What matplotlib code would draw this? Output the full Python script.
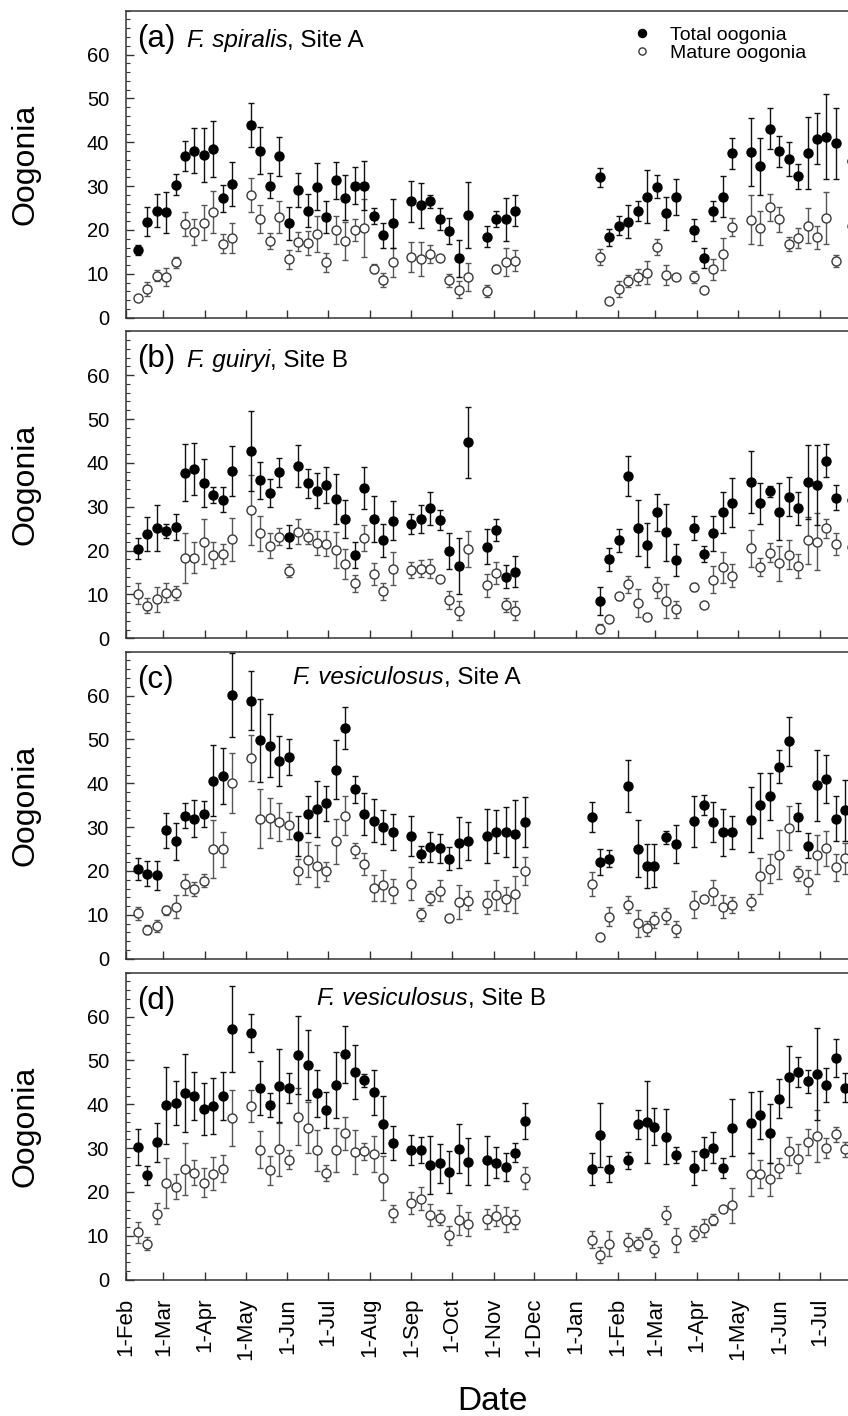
import pandas as pd
import matplotlib.pyplot as plt
from matplotlib.lines import Line2D
from matplotlib.ticker import MultipleLocator

plt.rcParams['font.family'] = ['Liberation Sans', 'DejaVu Sans']

# sampling dates, days after 1-Feb of the first year
days_ab = [9, 16, 23, 30, 37, 44, 51, 58, 65, 72, 79,
           93, 100, 107, 114, 121, 128, 135, 142, 149, 156, 163, 170, 177, 184, 191, 198,
           212, 219, 226, 233, 240, 247, 254,
           268, 275, 282, 289,
           352, 359, 366, 373, 380, 387, 394, 401, 408,
           422, 429, 436, 443, 450,
           464, 471, 478, 485, 492, 499, 506, 513, 520, 527, 539]
days_cd = [9, 16, 23, 30, 37, 44, 51, 58, 65, 72, 79,
           93, 100, 107, 114, 121, 128, 135, 142, 149, 156, 163, 170, 177, 184, 191, 198,
           212, 219, 226, 233, 240, 247, 254,
           268, 275, 282, 289, 296,
           346, 352, 359, 373, 380, 387, 392, 401, 408,
           422, 429, 436, 443, 450,
           464, 471, 478, 485, 492, 499, 506, 513, 520, 527, 534]

# (a) F. spiralis, Site A
a_total = [15.4, 21.9, 24.4, 24.0, 30.3, 36.9, 38.1, 37.1, 38.5, 27.2, 30.5,
           44.0, 38.1, 30.1, 36.8, 21.5, 29.1, 24.4, 29.9, 23.0, 31.3, 27.4, 30.1, 30.1, 23.2, 18.8, 21.5,
           26.5, 25.6, 26.5, 22.5, 19.8, 13.5, 23.4,
           18.5, 22.5, 22.5, 24.4,
           32.0, 18.3, 21.0, 21.9, 24.3, 27.6, 29.9, 23.8, 27.6, 20.0, 13.7, 24.3, 27.6, 37.5,
           37.8, 34.5, 43.1, 37.9, 36.2, 32.2, 37.5, 40.8, 41.3, 39.8, 35.8]
a_total_se = [1.2, 3.3, 3.7, 4.7, 2.4, 3.4, 5.1, 6.2, 6.4, 3.1, 5.1,
              5.0, 5.4, 2.9, 4.4, 3.7, 3.8, 3.7, 5.4, 3.7, 4.2, 5.2, 4.2, 5.6, 1.9, 2.9, 5.6,
              4.6, 5.2, 1.5, 2.5, 2.9, 4.3, 7.5,
              2.4, 1.8, 4.9, 3.6,
              2.1, 2.0, 2.2, 3.7, 2.2, 6.1, 2.7, 3.7, 4.1, 2.4, 2.3, 2.3, 4.6, 3.5,
              7.8, 6.5, 4.7, 3.5, 3.9, 2.8, 8.2, 5.8, 9.6, 8.1, 3.0]
a_mature = [4.5, 6.6, 9.6, 9.3, 12.6, 21.4, 19.5, 21.7, 24.1, 16.9, 18.2,
            28.0, 22.4, 17.5, 23.0, 13.3, 17.3, 17.1, 19.1, 12.6, 20.1, 17.5, 20.0, 20.4, 11.2, 8.5, 12.6,
            13.9, 13.3, 14.5, 13.5, 8.5, 6.4, 9.3,
            6.1, 11.1, 12.7, 13.0,
            13.9, 3.7, 6.5, 8.3, 9.3, 10.3, 16.2, 9.7, 9.2, 9.3, 6.4, 11.0, 14.5, 20.7,
            22.3, 20.5, 25.2, 22.4, 16.8, 18.2, 21.0, 18.3, 22.7, 12.9, 21.0]
a_mature_se = [0.5, 1.6, 1.3, 2.0, 1.2, 2.8, 3.0, 3.9, 4.8, 2.2, 3.5,
               3.8, 3.2, 1.9, 3.6, 2.1, 2.2, 2.7, 4.2, 2.1, 3.2, 4.4, 2.5, 6.6, 1.0, 1.6, 3.4,
               3.4, 3.9, 2.1, 0.5, 1.5, 2.0, 3.1,
               1.4, 1.0, 3.1, 2.4,
               1.8, 0.3, 1.8, 1.4, 1.8, 2.7, 1.8, 2.3, 0.4, 1.4, 0.5, 2.3, 3.7, 2.1,
               5.6, 3.9, 3.1, 2.9, 1.6, 2.2, 3.9, 2.7, 6.0, 1.3, 2.0]

# (b) F. guiryi, Site B
b_total = [20.4, 23.8, 25.2, 24.5, 25.3, 37.8, 38.6, 35.4, 32.7, 31.6, 38.2,
           42.8, 36.0, 33.1, 37.9, 23.2, 39.2, 35.4, 33.7, 35.0, 31.8, 27.2, 19.0, 34.2, 27.2, 22.3, 26.8,
           26.1, 27.1, 29.6, 27.0, 20.0, 16.5, 44.7,
           20.9, 24.7, 14.0, 15.2,
           8.5, 18.0, 22.3, 37.0, 25.1, 21.3, 28.7, 24.2, 17.8, 25.1, 19.2, 23.9, 28.7, 30.9,
           35.6, 30.8, 33.5, 28.9, 32.3, 29.6, 35.6, 35.0, 40.5, 32.1, 31.6]
b_total_se = [2.4, 3.8, 5.2, 1.6, 3.0, 6.5, 6.0, 5.5, 1.8, 2.9, 5.7,
              9.1, 4.2, 3.2, 3.3, 2.6, 4.8, 3.3, 3.9, 4.1, 5.7, 4.3, 2.9, 4.8, 5.2, 3.8, 4.4,
              2.3, 3.2, 3.8, 2.3, 4.1, 6.4, 8.1,
              4.0, 2.5, 2.6, 3.5,
              3.3, 2.6, 2.6, 4.6, 6.4, 5.1, 4.3, 6.5, 3.6, 2.7, 1.9, 4.0, 4.6, 5.6,
              7.0, 4.7, 1.3, 6.6, 4.5, 3.7, 8.5, 9.1, 3.7, 2.9, 3.0]
b_mature = [10.2, 7.4, 8.9, 10.4, 10.4, 18.4, 18.4, 22.0, 19.0, 19.2, 22.6,
            29.3, 23.9, 21.1, 23.2, 15.4, 24.3, 23.2, 21.8, 21.6, 20.1, 16.9, 12.5, 22.8, 14.6, 10.7, 15.9,
            15.5, 15.9, 15.9, 13.6, 8.7, 6.3, 20.4,
            12.1, 14.9, 7.5, 6.3,
            2.2, 4.3, 9.6, 12.3, 8.1, 4.9, 11.6, 8.5, 6.6, 11.7, 7.5, 13.4, 16.2, 14.3,
            20.5, 16.3, 19.5, 17.1, 19.1, 16.5, 22.3, 22.0, 25.1, 21.5, 20.9]
b_mature_se = [2.3, 1.7, 2.9, 2.1, 1.6, 5.7, 3.6, 5.1, 2.9, 2.2, 4.9,
               8.0, 4.1, 2.9, 2.0, 1.5, 2.9, 1.7, 2.7, 2.9, 4.1, 3.4, 2.0, 3.0, 2.5, 2.0, 3.7,
               1.8, 2.0, 2.1, 0.5, 2.1, 2.1, 4.1,
               2.6, 2.5, 1.6, 2.2,
               1.0, 0.5, 0.8, 1.9, 3.2, 0.5, 2.3, 3.8, 1.9, 0.9, 0.5, 3.0, 3.5, 2.6,
               4.2, 2.1, 2.2, 4.0, 3.4, 2.7, 5.3, 6.5, 2.2, 2.5, 2.0]

# (c) F. vesiculosus, Site A
c_total = [20.4, 19.4, 19.0, 29.3, 26.8, 32.6, 31.9, 33.0, 40.6, 41.6, 60.1,
           58.8, 49.8, 48.6, 45.0, 46.0, 28.0, 32.9, 34.1, 35.4, 43.1, 52.7, 38.6, 33.0, 31.5, 30.0, 28.8,
           28.0, 23.9, 25.5, 25.2, 22.8, 26.4, 26.8,
           28.0, 28.9, 29.0, 28.5, 31.2,
           32.3, 22.0, 22.8, 39.3, 25.1, 21.2, 21.2, 27.7, 26.2, 31.3, 35.0, 31.2, 28.8, 28.8,
           31.7, 35.0, 37.0, 43.8, 49.6, 32.3, 25.8, 39.6, 40.9, 31.9, 33.8]
c_total_se = [2.5, 2.9, 3.3, 4.0, 4.2, 2.9, 4.2, 2.9, 8.1, 6.4, 9.5,
              6.7, 9.5, 7.2, 5.7, 4.2, 4.5, 4.3, 6.4, 3.9, 6.8, 4.8, 3.1, 4.8, 4.8, 3.9, 4.1,
              4.6, 1.9, 3.5, 3.3, 2.6, 5.8, 4.4,
              6.2, 4.9, 5.7, 7.7, 5.7,
              3.4, 3.0, 1.9, 5.9, 6.5, 5.0, 4.9, 1.5, 4.3, 5.8, 2.3, 4.6, 5.4, 3.7,
              7.4, 7.4, 5.3, 3.8, 5.6, 3.2, 2.8, 8.1, 5.5, 5.1, 7.0]
c_mature = [10.4, 6.6, 7.5, 11.0, 11.9, 17.0, 15.9, 17.8, 25.0, 25.0, 40.1,
            45.7, 31.9, 32.1, 31.2, 30.4, 19.9, 22.6, 21.2, 19.9, 26.8, 32.6, 24.7, 21.6, 16.1, 16.7, 15.5,
            17.1, 10.1, 13.9, 15.5, 9.2, 13.0, 13.2,
            12.8, 14.6, 13.6, 14.7, 20.0,
            17.0, 4.9, 9.6, 12.3, 8.1, 6.9, 8.8, 9.8, 6.8, 12.3, 13.6, 15.1, 11.9, 12.3,
            13.0, 18.9, 20.5, 23.7, 29.8, 19.5, 17.5, 23.7, 25.2, 20.8, 22.9]
c_mature_se = [1.5, 1.0, 1.4, 1.0, 2.6, 2.4, 1.7, 1.4, 6.6, 4.0, 6.9,
               5.2, 6.7, 4.6, 4.4, 3.1, 2.9, 3.9, 4.8, 2.2, 5.1, 4.4, 1.7, 2.5, 3.0, 3.5, 2.7,
               3.7, 1.5, 1.6, 2.4, 0.8, 3.9, 2.2,
               2.7, 3.4, 2.8, 4.2, 3.3,
               2.8, 0.4, 2.1, 1.9, 3.1, 1.8, 1.8, 1.8, 1.9, 3.1, 0.5, 2.8, 2.6, 1.8,
               1.8, 4.1, 3.3, 5.6, 5.0, 1.7, 2.7, 4.5, 4.0, 3.0, 3.5]

# (d) F. vesiculosus, Site B
d_total = [30.3, 23.8, 31.3, 39.8, 40.2, 42.5, 41.9, 38.9, 39.6, 41.9, 57.2,
           56.3, 43.7, 39.8, 44.2, 43.8, 51.2, 48.9, 42.5, 38.6, 44.4, 51.4, 47.4, 45.5, 42.7, 35.4, 31.1,
           29.5, 29.5, 26.1, 26.5, 24.6, 29.9, 26.9,
           27.2, 26.7, 25.7, 29.0, 36.1,
           25.2, 33.0, 25.3, 27.2, 35.4, 36.0, 34.9, 32.6, 28.4, 25.5, 28.8, 30.1, 25.4, 34.7,
           35.8, 37.5, 33.4, 41.3, 46.3, 47.4, 45.2, 47.0, 44.4, 50.5, 43.8]
d_total_se = [4.1, 2.1, 4.5, 8.8, 5.0, 8.9, 5.4, 5.9, 6.3, 5.4, 9.8,
              4.3, 6.1, 2.8, 8.3, 3.4, 8.9, 8.0, 5.3, 4.1, 7.5, 6.5, 6.1, 1.5, 5.2, 6.5, 3.9,
              3.4, 3.0, 6.6, 4.5, 4.8, 5.5, 5.3,
              5.6, 3.6, 3.1, 2.1, 4.1,
              3.7, 7.4, 3.0, 2.0, 3.4, 9.3, 4.3, 6.3, 1.9, 3.9, 3.7, 3.6, 2.3, 6.6,
              7.0, 5.5, 6.7, 4.5, 6.9, 3.4, 2.6, 10.5, 3.8, 4.3, 3.3]
d_mature = [10.8, 8.2, 15.0, 22.0, 21.2, 25.2, 24.4, 22.1, 24.2, 25.3, 36.8,
            39.6, 29.6, 24.9, 29.7, 27.4, 37.1, 34.7, 29.5, 24.4, 29.5, 33.4, 29.1, 29.3, 28.7, 23.2, 15.1,
            17.4, 18.5, 14.7, 14.1, 10.1, 13.6, 12.7,
            13.9, 14.6, 13.7, 13.7, 23.1,
            9.1, 5.7, 8.2, 8.6, 8.2, 10.5, 7.0, 14.7, 9.1, 10.5, 11.8, 13.7, 16.2, 17.0,
            24.0, 24.2, 22.9, 25.5, 29.3, 27.6, 31.4, 32.8, 30.0, 33.2, 29.7]
d_mature_se = [2.4, 1.5, 2.4, 5.7, 2.8, 5.9, 2.9, 3.3, 3.8, 3.1, 6.4,
               3.7, 4.2, 3.3, 6.0, 2.2, 6.5, 5.9, 4.7, 1.8, 5.0, 3.8, 5.1, 1.9, 4.1, 5.0, 2.0,
               2.5, 2.6, 2.5, 1.7, 2.2, 3.4, 2.8,
               2.3, 2.4, 2.9, 2.1, 2.5,
               1.9, 1.8, 2.9, 2.1, 1.5, 1.3, 1.9, 2.1, 2.7, 1.7, 2.1, 1.2, 0.6, 4.0,
               5.0, 3.2, 3.8, 2.3, 3.2, 3.3, 3.0, 6.0, 2.2, 1.7, 1.7]

# month ticks
meses = pd.date_range('2010-02-01', '2011-07-01', freq='MS')
mes_pos = [(m - meses[0]).days for m in meses]
mes_lab = ['1-' + m.strftime('%b') for m in meses]

paneles = [
    ('(a)', 'F. spiralis', ', Site A', None, days_ab, a_total, a_total_se, a_mature, a_mature_se, 10.7),
    ('(b)', 'F. guiryi', ', Site B', None, days_ab, b_total, b_total_se, b_mature, b_mature_se, 331.3),
    ('(c)', 'F. vesiculosus', ', Site A', 293, days_cd, c_total, c_total_se, c_mature, c_mature_se, 651.7),
    ('(d)', 'F. vesiculosus', ', Site B', 317, days_cd, d_total, d_total_se, d_mature, d_mature_se, 972.7),
]

W, H = 848, 1416
x0_px, px_dia = 125.7, 1.3476
xmax = 560
alto = 307

fig = plt.figure(figsize=(W / 100, H / 100), dpi=100)
gris = '#333333'

for i, (letra, especie, sitio, x_nombre, dias, tot, tot_se, mat, mat_se, top) in enumerate(paneles):
    ax = fig.add_axes([x0_px / W, 1 - (top + alto) / H, xmax * px_dia / W, alto / H])

    ax.errorbar(dias, mat, yerr=mat_se, fmt='o', ms=6.5, mfc='white', mec='#3a3a3a', mew=1.0,
                ecolor='#555555', elinewidth=1.0, capsize=2.5, capthick=1.0, zorder=2)
    ax.errorbar(dias, tot, yerr=tot_se, fmt='o', ms=6.5, color='black', mec='black',
                ecolor='#111111', elinewidth=1.0, capsize=2.5, capthick=1.0, zorder=3)

    ax.set_xlim(0, xmax)
    ax.set_ylim(0, 70)
    ax.yaxis.set_minor_locator(MultipleLocator(2))
    ax.set_yticks(range(0, 61, 10))
    ax.set_xticks(mes_pos)
    if i == 3:
        ax.set_xticklabels(mes_lab, rotation=90)
    else:
        ax.set_xticklabels([])

    ax.tick_params(axis='y', which='major', direction='in', length=5.5, width=1, pad=12,
                   labelsize=14.5, color=gris)
    ax.tick_params(axis='y', which='minor', direction='in', length=3, width=0.8, color=gris)
    ax.tick_params(axis='x', which='major', direction='in', length=6, width=1, pad=13,
                   labelsize=16, color=gris)
    ax.spines['right'].set_visible(False)
    for s in ['left', 'top', 'bottom']:
        ax.spines[s].set_color(gris)
        ax.spines[s].set_linewidth(1.1)

    # panel label
    yb_letra = 1 - 36 / alto
    t1 = ax.text(11 / (xmax * px_dia), yb_letra, letra, transform=ax.transAxes,
                 fontsize=22.5, va='baseline')
    if x_nombre is None:
        t2 = ax.annotate(especie, xy=(1, yb_letra), xycoords=(t1, 'axes fraction'),
                         xytext=(8.4, 0), textcoords='offset points',
                         fontsize=17.5, style='italic', va='baseline')
    else:
        yb_nom = 1 - 32 / alto
        t2 = ax.text((x_nombre - x0_px) / (xmax * px_dia), yb_nom, especie, transform=ax.transAxes,
                     fontsize=17.5, style='italic', va='baseline')
    ax.annotate(sitio, xy=(1, 0), xycoords=t2, fontsize=17.5, va='bottom')

    if i == 0:
        marcas = [Line2D([], [], ls='none', marker='o', ms=5.8, color='black'),
                  Line2D([], [], ls='none', marker='o', ms=5.2, mfc='white', mec='#3a3a3a', mew=1.0)]
        ax.legend(marcas, ['Total oogonia', 'Mature oogonia'], loc='upper left',
                  bbox_to_anchor=((617 - x0_px) / (xmax * px_dia), 1.0),
                  frameon=False, fontsize=14, handlelength=1.0, handletextpad=0.95,
                  labelspacing=0.03, borderpad=0.2, borderaxespad=0.6)

    fig.text(26 / W, 1 - (top + alto / 2) / H, 'Oogonia', rotation=90, ha='center', va='center',
             fontsize=23)

fig.text(492 / W, 1 - 1401 / H, 'Date', ha='center', va='center', fontsize=24)

fig.savefig('out.png', dpi=100)
